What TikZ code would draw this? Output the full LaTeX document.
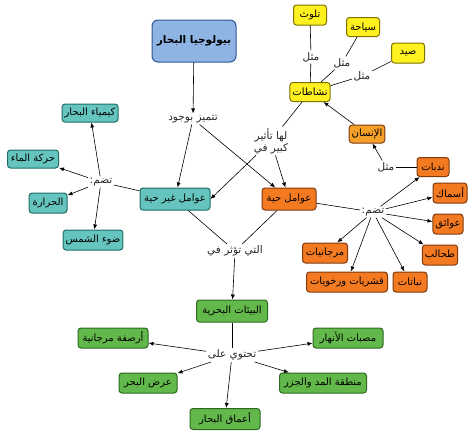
\documentclass[tikz,border=0pt]{standalone}
\usepackage{fontspec}
\setmainfont{DejaVu Sans}
\newfontfamily\arabicfont[Script=Arabic]{DejaVu Sans}
\TeXXeTstate=1
\usetikzlibrary{arrows.meta}
\newcommand{\artxt}[1]{\arabicfont\beginR #1\endR}
\definecolor{blueF}{HTML}{8DB4E2}\definecolor{blueD}{HTML}{2F5597}
\definecolor{tealF}{HTML}{66C4BE}\definecolor{tealD}{HTML}{1E6B67}
\definecolor{orangeF}{HTML}{F47A22}\definecolor{orangeD}{HTML}{7F3A0E}
\definecolor{lorangeF}{HTML}{F6A12A}
\definecolor{yellowF}{HTML}{FFF01F}\definecolor{yellowD}{HTML}{807300}
\definecolor{greenF}{HTML}{62B84A}\definecolor{greenD}{HTML}{2D6A1F}
\begin{document}
\begin{tikzpicture}[x=1pt,y=-1pt,
 box/.style={draw, rounded corners=3pt, line width=1pt, inner xsep=2.5pt, inner ysep=1pt, minimum height=20pt, font=\fontsize{10}{12}\selectfont},
 bluebox/.style={box, fill=blueF, draw=blueD, rounded corners=6pt, font=\fontsize{10.5}{12}\selectfont\bfseries},
 tealbox/.style={box, fill=tealF, draw=tealD},
 orangebox/.style={box, fill=orangeF, draw=orangeD},
 lorangebox/.style={box, fill=lorangeF, draw=orangeD},
 yellowbox/.style={box, fill=yellowF, draw=yellowD},
 greenbox/.style={box, fill=greenF, draw=greenD},
 lbl/.style={inner sep=1.5pt, font=\fontsize{10.5}{12}\selectfont, text=black!85, align=center},
 arr/.style={-{Latex[length=5pt,width=4pt]}, line width=0.6pt},
 ln/.style={line width=0.6pt}]
\useasboundingbox (0,0) rectangle (472,434);

% main
\node[bluebox, minimum width=84pt, minimum height=42pt] (bio) at (194,41) {\artxt{بيولوجيا البحار}};
\node[lbl] (tam) at (193,119) {\artxt{تتميز بوجود}};
\node[tealbox, minimum width=70pt, minimum height=22pt] (abio) at (175,199) {\artxt{عوامل غير حية}};
\node[orangebox, minimum width=54pt, minimum height=22pt] (bioti) at (289,199) {\artxt{عوامل حية}};
\node[lbl] (tath) at (271,141) {\artxt{لها تأثير}\\\artxt{كبير في}};

% abiotic cluster
\node[lbl] (tad1) at (101,182) {\artxt{تضم:}};
\node[tealbox, minimum width=56pt, minimum height=18pt] (kim) at (90,113) {\artxt{كيمياء البحار}};
\node[tealbox, minimum width=51pt, minimum height=18pt] (har) at (33,159) {\artxt{حركة الماء}};
\node[tealbox, minimum width=38pt] (hra) at (48,203) {\artxt{الحرارة}};
\node[tealbox, minimum width=50pt] (daw) at (93,240) {\artxt{ضوء الشمس}};

% biotic cluster
\node[lbl] (tad2) at (373,212) {\artxt{تضم:}};
\node[lorangebox, minimum width=33pt, minimum height=18pt] (ins) at (367,134) {\artxt{الإنسان}};
\node[lbl] (mth4) at (386,167) {\artxt{مثل}};
\node[orangebox, minimum width=32pt, minimum height=19pt] (nad) at (433,167) {\artxt{ندبات}};
\node[orangebox, minimum width=34pt] (asm) at (450,193) {\artxt{أسماك}};
\node[orangebox, minimum width=30pt] (awa) at (448,224) {\artxt{عوائق}};
\node[orangebox, minimum width=33pt] (tah) at (440,255) {\artxt{طحالب}};
\node[orangebox, minimum width=34pt] (nab) at (410,282) {\artxt{نباتات}};
\node[orangebox, minimum width=81pt] (qsh) at (347,282) {\artxt{قشريات ورخويات}};
\node[orangebox, minimum width=45pt] (mrj) at (325,253) {\artxt{مرجانيات}};

% activities
\node[yellowbox, minimum width=39pt, minimum height=19pt] (nsh) at (310,92) {\artxt{نشاطات}};
\node[yellowbox, minimum width=33pt] (tlw) at (310,15) {\artxt{تلوث}};
\node[yellowbox, minimum width=33pt, minimum height=19pt] (syh) at (363,27) {\artxt{سياحة}};
\node[yellowbox, minimum width=33pt] (syd) at (408,53) {\artxt{صيد}};
\node[lbl] (mth1) at (311,57) {\artxt{مثل}};
\node[lbl] (mth2) at (342,63) {\artxt{مثل}};
\node[lbl] (mth3) at (362,76) {\artxt{مثل}};

% environments
\node[lbl] (tuth) at (235,251) {\artxt{التي تؤثر في}};
\node[greenbox, minimum width=71pt, minimum height=22pt] (env) at (232,311) {\artxt{البيئات البحرية}};
\node[lbl] (taht) at (232,355) {\artxt{تحتوي على}};
\node[greenbox, minimum width=70pt] (ars) at (113,338) {\artxt{أرصفة مرجانية}};
\node[greenbox, minimum width=58pt] (ard) at (148,383) {\artxt{عرض البحر}};
\node[greenbox, minimum width=70pt, minimum height=21pt] (aam) at (225,419) {\artxt{أعماق البحار}};
\node[greenbox, minimum width=70pt] (msb) at (348,338) {\artxt{مصبات الأنهار}};
\node[greenbox, minimum width=87pt] (mnt) at (323,383) {\artxt{منطقة المد والجزر}};

% connectors
\draw[arr] (bio) -- (tam);
\draw[arr] (tam) -- (abio);
\draw[arr] (tam) -- (bioti);
\draw[ln] (nsh) -- (tath);
\draw[arr] (tath) -- (abio.east);
\draw[arr] (tath) -- (bioti);

\draw[ln] (abio) -- (tad1);
\draw[arr] (tad1) -- (kim);
\draw[arr] (tad1) -- (har);
\draw[arr] (tad1) -- (hra);
\draw[arr] (tad1) -- (daw);

\draw[ln] (bioti) -- (tad2);
\draw[arr] (tad2) -- (nad);
\draw[arr] (tad2) -- (asm);
\draw[arr] (tad2) -- (awa);
\draw[arr] (tad2) -- (tah);
\draw[arr] (tad2) -- (nab);
\draw[arr] (tad2) -- (qsh);
\draw[arr] (tad2) -- (mrj);
\draw[ln] (nad) -- (mth4);
\draw[arr] (mth4) -- (ins);
\draw[arr] (ins) -- (nsh);

\draw[ln] (nsh) -- (mth1) -- (tlw);
\draw[ln] (nsh) -- (mth2) -- (syh);
\draw[ln] (nsh) -- (mth3) -- (syd);

\draw[ln] (abio) -- (tuth);
\draw[ln] (bioti) -- (tuth);
\draw[arr] (tuth) -- (env);
\draw[ln] (env) -- (taht);
\draw[arr] (taht) -- (ars);
\draw[arr] (taht) -- (ard);
\draw[arr] (taht) -- (aam);
\draw[arr] (taht) -- (msb);
\draw[arr] (taht) -- (mnt);
\end{tikzpicture}
\end{document}
